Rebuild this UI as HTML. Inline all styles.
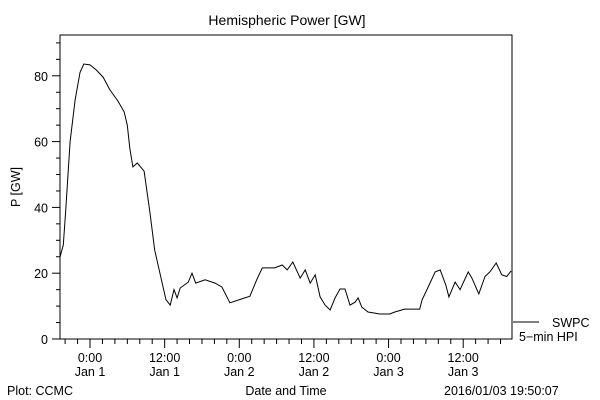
<!DOCTYPE html>
<html><head><meta charset="utf-8"><style>
body{margin:0;background:#fff}
svg{display:block;font-family:"Liberation Sans",sans-serif;font-size:12.5px;fill:#000}
</style></head><body>
<svg width="600" height="400" viewBox="0 0 600 400">
<rect width="600" height="400" fill="#fff"/>
<text x="287" y="25" text-anchor="middle" font-size="14">Hemispheric Power [GW]</text>
<rect x="60" y="35" width="452" height="304" fill="none" stroke="#000"/>
<g id="axes"></g>
<path id="series" fill="none" stroke="#000" stroke-width="1"/>
<text transform="translate(20,187) rotate(-90)" text-anchor="middle">P [GW]</text>
<line x1="513" y1="322" x2="539" y2="322" stroke="#000"/>
<text x="552" y="327">SWPC</text>
<text x="519" y="341">5−min HPI</text>
<text x="7" y="395">Plot: CCMC</text>
<text x="286" y="395" text-anchor="middle">Date and Time</text>
<text x="444" y="395">2016/01/03 19:50:07</text>
</svg>
<script>
const hours=[-4.8,-4.3,-3.9,-3.2,-2.4,-1.6,-1.0,0,1,2.1,3.2,4.5,5.5,6,6.4,6.9,7.6,8.7,9.6,10.4,11.3,12.2,12.9,13.5,14,14.5,15.8,16.4,17,18.5,20.1,21.2,22.5,24.1,25.7,26.8,27.7,29.7,30.9,31.7,32.6,33.8,34.6,35.4,36.2,37,37.8,38.6,39.4,40.2,41,41.8,42.6,43.1,43.7,44.7,46.6,48.2,49,50.6,53,53.4,54.3,55.5,56.3,57.2,57.7,58.7,59.5,60.8,61.4,62.5,63.5,64.3,65.3,66.2,67,67.7];
const power=[25,28.6,39,60,72.6,81,83.6,83.3,81.8,79.6,75.7,72.3,69,65,58,52.3,53.5,51,39,27,19.5,12,10.3,15,12.5,15.5,17.3,20,17,18,17,15.8,11,12,13,18,21.6,21.6,22.5,21,23.4,18.5,21,17,19.5,12.8,10.3,8.8,12.5,15.2,15.2,10.3,11.2,12.5,9.7,8.2,7.6,7.6,8.2,9.1,9.1,11.9,15.5,20.4,21,16.4,12.8,17.3,15,20.4,18.5,13.7,19,20.4,23.1,19.5,19,20.7];
const yTicks=[0,20,40,60,80];
const xTickLabels=[["0:00","Jan 1"],["12:00","Jan 1"],["0:00","Jan 2"],["12:00","Jan 2"],["0:00","Jan 3"],["12:00","Jan 3"]];
const xTickHours=[0,12,24,36,48,60];
const X=h=>90+h*6.22, Y=v=>339-v*3.29;
const NS="http://www.w3.org/2000/svg";
const g=document.getElementById('axes');
function ln(x1,y1,x2,y2,n){const l=document.createElementNS(NS,'line');l.setAttribute('x1',x1);l.setAttribute('y1',y1);l.setAttribute('x2',x2);l.setAttribute('y2',y2);l.setAttribute('stroke','#000');


g.appendChild(l);}
function tx(x,y,s,a,n){const t=document.createElementNS(NS,'text');t.setAttribute('x',x);t.setAttribute('y',y);t.setAttribute('text-anchor',a);t.textContent=s;


g.appendChild(t);}
for(let v=0;v<=90;v+=5){ln(60,Y(v),v%20==0?52:56,Y(v),'y-tick');}
yTicks.forEach(v=>tx(48,Y(v)+5,String(v),'end','y-tick-label'));
for(let h=-4;h<=67;h+=2){ln(X(h),339,X(h),h%12==0?348:344,'x-tick');}
xTickHours.forEach((h,i)=>{tx(X(h),362,xTickLabels[i][0],'middle','x-tick-label');tx(X(h),376,xTickLabels[i][1],'middle','x-tick-date');});
document.getElementById('series').setAttribute('d',hours.map((h,i)=>(i?'L':'M')+X(h).toFixed(1)+' '+Y(power[i]).toFixed(1)).join(''));
</script>
</body></html>
